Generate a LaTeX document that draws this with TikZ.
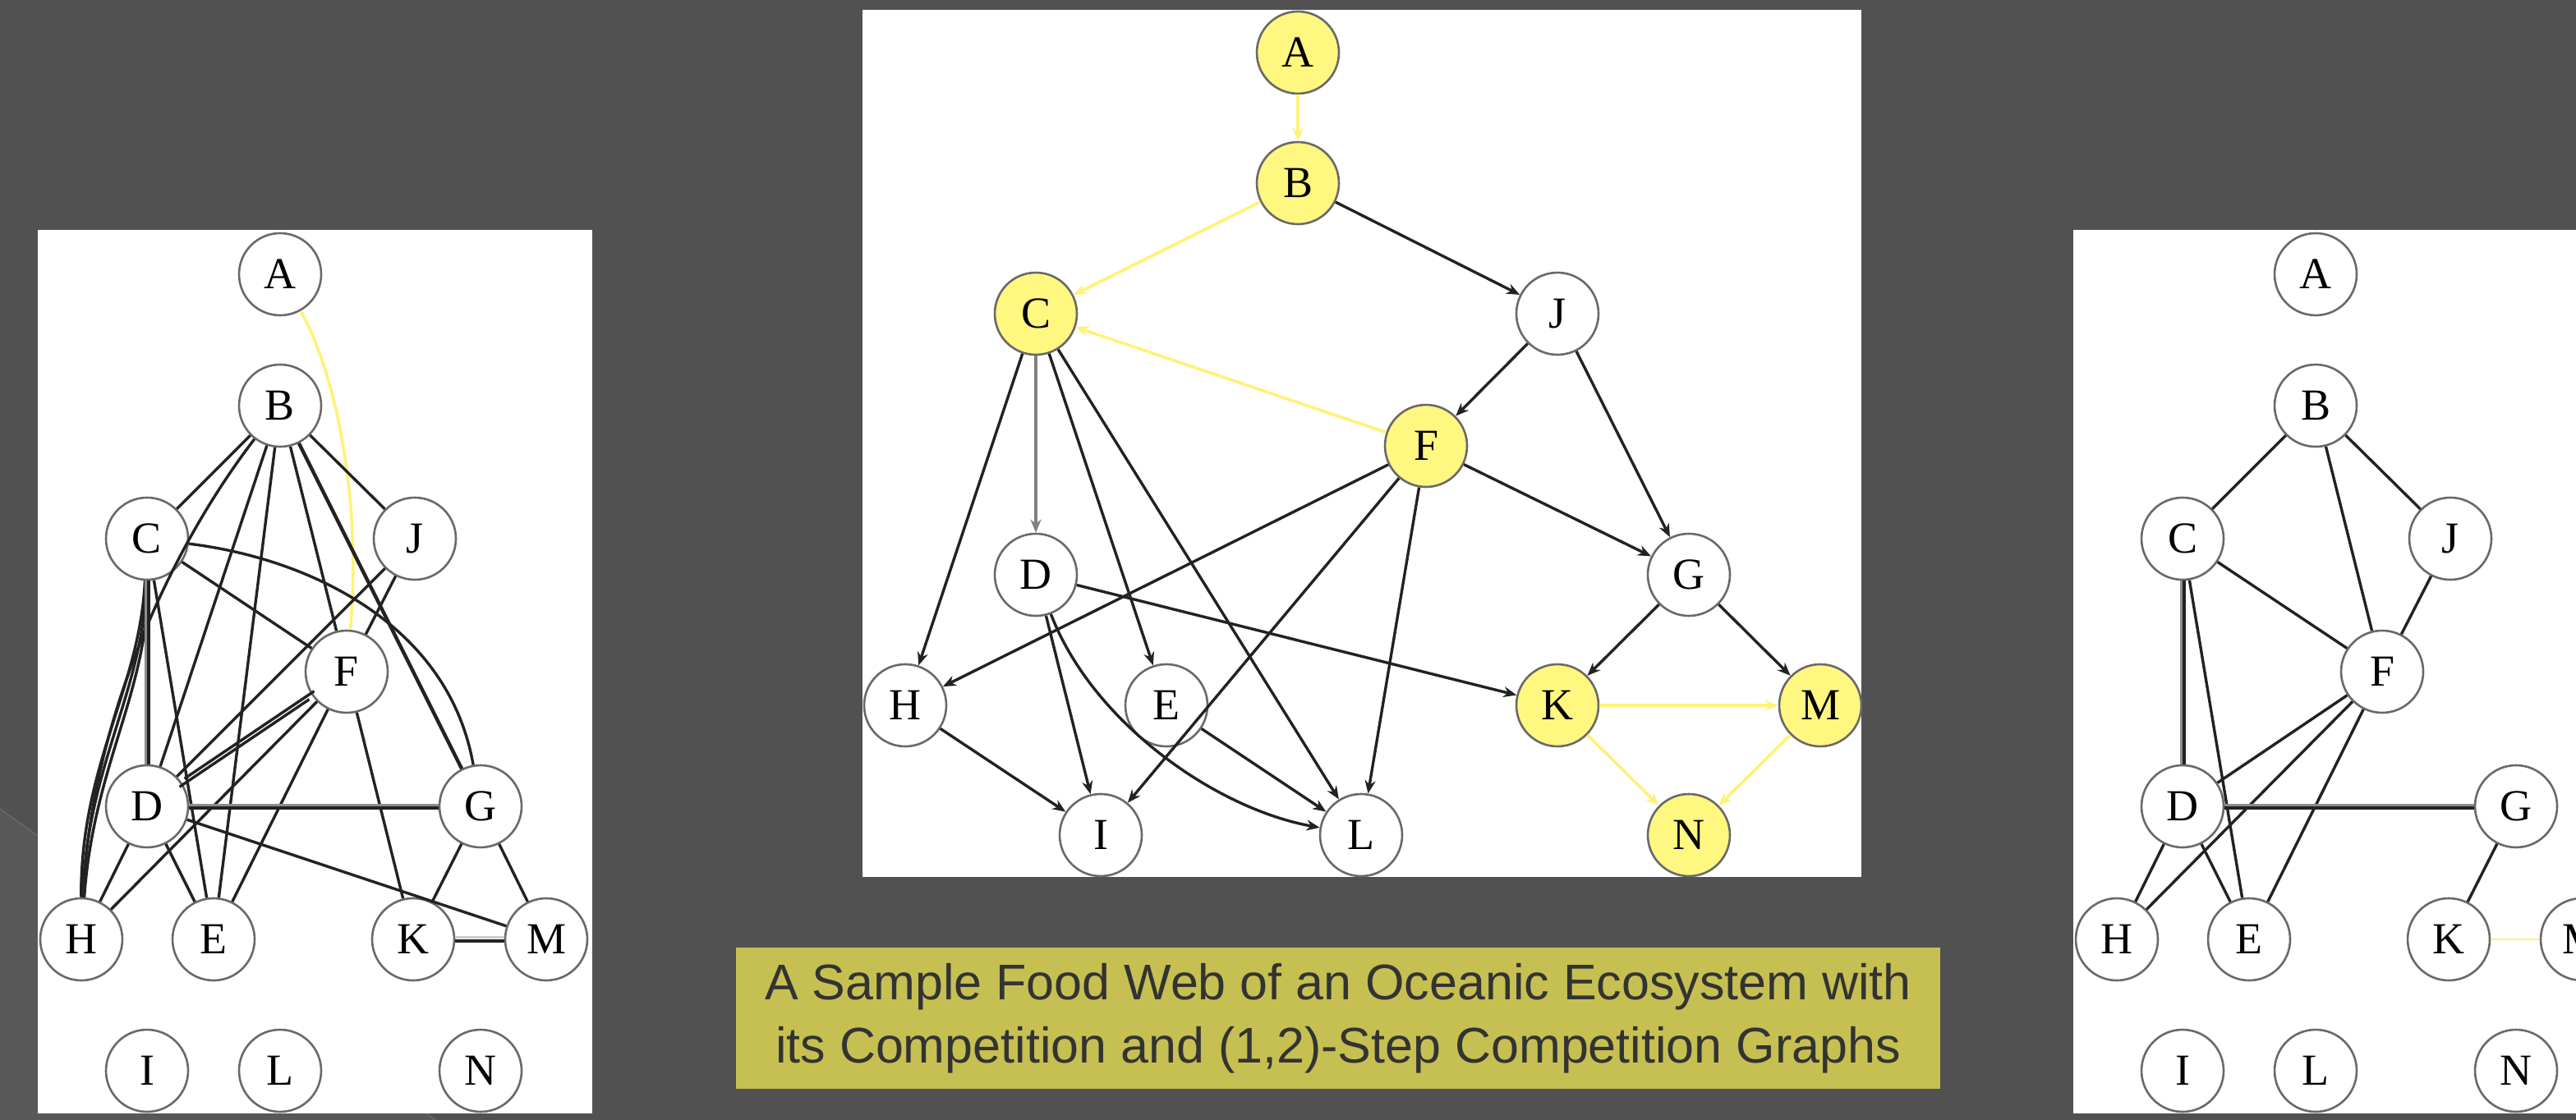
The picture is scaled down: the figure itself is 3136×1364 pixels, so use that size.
\documentclass[tikz,border=0pt]{standalone}
\usepackage{fontspec}
\setmainfont{Liberation Serif}
\newfontfamily\capfont{Liberation Sans}
\usetikzlibrary{arrows.meta}
\definecolor{bg}{RGB}{81,81,81}
\definecolor{bgl}{RGB}{88,88,88}
\definecolor{bgline}{RGB}{108,108,108}
\definecolor{nodeyel}{RGB}{255,247,128}
\definecolor{edgeyel}{RGB}{255,242,120}
\definecolor{capfill}{RGB}{198,192,82}
\definecolor{captext}{RGB}{51,51,51}
\definecolor{ink}{RGB}{34,34,34}
\definecolor{rim}{RGB}{105,105,105}
\definecolor{soft}{RGB}{140,140,140}
\begin{document}
\begin{tikzpicture}[x=1pt,y=-1pt,
  vtx/.style={circle,draw=rim,line width=2.6pt,fill=white,minimum size=100pt,inner sep=0pt,font=\fontsize{54}{60}\selectfont},
  hi/.style={fill=nodeyel},
  ed/.style={draw=ink,line width=3.4pt},
  ged/.style={draw=soft,line width=3pt},
  yed/.style={draw=edgeyel,line width=3.6pt},
  arr/.style={ed,-{Stealth[length=16pt,width=13pt]}},
  garr/.style={draw=gray,line width=4pt,-{Stealth[length=16pt,width=13pt]}},
  yarr/.style={yed,-{Stealth[length=16pt,width=13pt]}},
  panel/.style={fill=white}
]
\useasboundingbox (0,0) rectangle (3136,1364);
\fill[bg] (0,0) rectangle (3136,1364);
\fill[bgl] (0,985) -- (530,1364) -- (0,1364) -- cycle;
\draw[bgline,line width=1.2pt] (0,985) -- (530,1364);

% ================= LEFT PANEL =================
\fill[panel] (46,280) rectangle (721,1356);
\begin{scope}[shift={(46,280)}]
  \node[vtx] (lA) at (295,54) {A};
  \node[vtx] (lB) at (295,214) {B};
  \node[vtx] (lC) at (133,376) {C};
  \node[vtx] (lJ) at (459,376) {J};
  \node[vtx] (lF) at (376,538) {F};
  \node[vtx] (lD) at (133,702) {D};
  \node[vtx] (lG) at (539,702) {G};
  \node[vtx] (lH) at (53,864) {H};
  \node[vtx] (lE) at (214,864) {E};
  \node[vtx] (lK) at (457,864) {K};
  \node[vtx] (lM) at (619,864) {M};
  \node[vtx] (lI) at (133,1024) {I};
  \node[vtx] (lL) at (295,1024) {L};
  \node[vtx] (lN) at (539,1024) {N};
  % edges
  \draw[yed] (lA) .. controls (360,170) and (395,320) .. (lF);
  \draw[ed] (lB) -- (lC);
  \draw[ed] (lB) -- (lD);
  \draw[ed] (lB) -- (lE);
  \draw[ed] (lB) -- (lF);
  \draw[ed] (lB) -- (lJ);
  \draw[ed,line width=4.4pt] (lB) -- (lG);
  \draw[ed] (lB) .. controls (160,390) and (64,600) .. (lH);
  \draw[ed] (lC) .. controls (124,560) and (52,650) .. (lH);
  \draw[ed] (lC) .. controls (130,560) and (60,650) .. (lH);
  \draw[ed] (lC) .. controls (136,560) and (68,650) .. (lH);
  \draw[ed] (lC) .. controls (330,400) and (500,480) .. (lG);
  \draw[ged] ([xshift=-2pt]lC.south) -- ([xshift=-2pt]lD.north);
  \draw[ed] ([xshift=2pt]lC.south) -- ([xshift=2pt]lD.north);
  \draw[ed] (lC) -- (lE);
  \draw[ed] (lC) -- (lF);
  \draw[ed] (lJ) -- (lD);
  \draw[ed] (lJ) -- (lF);
  \draw[ed,transform canvas={shift={(-3pt,-5pt)}}] (lF) -- (lD);
  \draw[ed,transform canvas={shift={(3pt,5pt)}}] (lF) -- (lD);
  \draw[ed] (lF) -- (lH);
  \draw[ed] (lF) -- (lE);
  \draw[ed] (lF) -- (lK);
  \draw[ed] (lD) -- (lH);
  \draw[ed] (lD) -- (lE);
  \draw[ged] ([yshift=2pt]lD.east) -- ([yshift=2pt]lG.west);
  \draw[ed] ([yshift=-2pt]lD.east) -- ([yshift=-2pt]lG.west);
  \draw[ed] (lD) -- (lM);
  \draw[ed] (lG) -- (lK);
  \draw[ed] (lG) -- (lM);
  \draw[ed] ([yshift=-2pt]lK.east) -- ([yshift=-2pt]lM.west);
  \draw[ged,draw=gray!40] ([yshift=2.5pt]lK.east) -- ([yshift=2.5pt]lM.west);
\end{scope}

% ================= CENTER PANEL =================
\fill[panel] (1050,12) rectangle (2266,1068);
\node[vtx,hi] (cA) at (1580,64) {A};
\node[vtx,hi] (cB) at (1580,223) {B};
\node[vtx,hi] (cC) at (1261,382) {C};
\node[vtx] (cJ) at (1896,382) {J};
\node[vtx,hi] (cF) at (1736,543) {F};
\node[vtx] (cD) at (1261,700) {D};
\node[vtx] (cG) at (2056,700) {G};
\node[vtx] (cH) at (1102,859) {H};
\node[vtx] (cE) at (1420,859) {E};
\node[vtx,hi] (cK) at (1896,859) {K};
\node[vtx,hi] (cM) at (2216,859) {M};
\node[vtx] (cI) at (1340,1017) {I};
\node[vtx] (cL) at (1657,1017) {L};
\node[vtx,hi] (cN) at (2056,1017) {N};
\draw[yarr] (cA) -- (cB);
\draw[yarr] (cB) -- (cC);
\draw[arr] (cB) -- (cJ);
\draw[arr] (cC) -- (cH);
\draw[garr] (cC) -- (cD);
\draw[arr] (cC) -- (cE);
\draw[arr] (cC) -- (cL);
\draw[arr] (cJ) -- (cF);
\draw[arr] (cJ) -- (cG);
\draw[yarr] (cF) -- (cC);
\draw[arr] (cF) -- (cH);
\draw[arr] (cF) -- (cI);
\draw[arr] (cF) -- (cL);
\draw[arr] (cF) -- (cG);
\draw[arr] (cD) -- (cK);
\draw[arr] (cD) -- (cI);
\draw[arr] (cD) .. controls (1330,880) and (1480,985) .. (cL);
\draw[arr] (cH) -- (cI);
\draw[arr] (cE) -- (cL);
\draw[arr] (cG) -- (cK);
\draw[arr] (cG) -- (cM);
\draw[yarr] (cK) -- (cM);
\draw[yarr] (cK) -- (cN);
\draw[yarr] (cM) -- (cN);

% ================= RIGHT PANEL =================
\begin{scope}
\clip (2524,280) rectangle (3136,1356);
\fill[panel] (2524,280) rectangle (3136,1356);
\begin{scope}[shift={(2524,280)}]
  \node[vtx] (rA) at (295,54) {A};
  \node[vtx] (rB) at (295,214) {B};
  \node[vtx] (rC) at (133,376) {C};
  \node[vtx] (rJ) at (459,376) {J};
  \node[vtx] (rF) at (376,538) {F};
  \node[vtx] (rD) at (133,702) {D};
  \node[vtx] (rG) at (539,702) {G};
  \node[vtx] (rH) at (53,864) {H};
  \node[vtx] (rE) at (214,864) {E};
  \node[vtx] (rK) at (457,864) {K};
  \node[vtx] (rM) at (619,864) {M};
  \node[vtx] (rI) at (133,1024) {I};
  \node[vtx] (rL) at (295,1024) {L};
  \node[vtx] (rN) at (539,1024) {N};
  \draw[ed] (rB) -- (rC);
  \draw[ed] (rB) -- (rF);
  \draw[ed] (rB) -- (rJ);
  \draw[ed] (rC) -- (rF);
  \draw[ed] (rJ) -- (rF);
  \draw[ged] ([xshift=-2pt]rC.south) -- ([xshift=-2pt]rD.north);
  \draw[ed] ([xshift=2pt]rC.south) -- ([xshift=2pt]rD.north);
  \draw[ed] (rC) -- (rE);
  \draw[ed] (rF) -- (rD);
  \draw[ed] (rF) -- (rH);
  \draw[ed] (rF) -- (rE);
  \draw[ed] (rD) -- (rH);
  \draw[ed] (rD) -- (rE);
  \draw[ged] ([yshift=2pt]rD.east) -- ([yshift=2pt]rG.west);
  \draw[ed] ([yshift=-2pt]rD.east) -- ([yshift=-2pt]rG.west);
  \draw[ed] (rG) -- (rK);
  \draw[draw=edgeyel,line width=2.2pt] (rK) -- (rM);
\end{scope}
\end{scope}

% ================= CAPTION =================
\node[fill=capfill,minimum width=1466pt,minimum height=172pt,inner sep=0pt,align=center,text=captext,
  font=\capfont\fontsize{61}{77}\selectfont] (cap) at (1629,1240)
  {A Sample Food Web of an Oceanic Ecosystem with\\its Competition and (1,2)-Step Competition Graphs};
\end{tikzpicture}
\end{document}
